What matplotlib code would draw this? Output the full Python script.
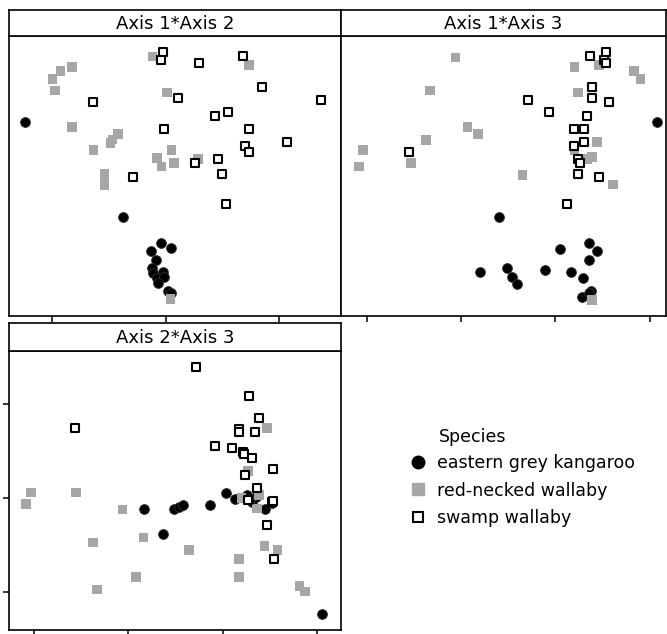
import matplotlib
matplotlib.use("Agg")
import matplotlib.pyplot as plt
from matplotlib.lines import Line2D

# ordination scores (one set per panel)
species = ["eastern grey kangaroo", "red-necked wallaby", "swamp wallaby"]

# Axis 1*Axis 2
egk_12_x = [-1.24, -0.38, -0.04, -0.13, 0.04, -0.09, -0.12, -0.03, -0.11, -0.08, -0.02, -0.07, 0.02, 0.04]
egk_12_y = [0.57, -0.44, -0.71, -0.80, -0.77, -0.89, -0.98, -1.02, -1.03, -1.09, -1.07, -1.14, -1.22, -1.24]
rnw_12_x = [-0.12, 0.73, -0.83, -0.93, -1.00, -0.98, 0.01, -0.83, -0.42, -0.47, -0.49,
            -0.64, 0.05, -0.08, 0.28, 0.07, -0.04, -0.54, -0.54, -0.54, 0.04]
rnw_12_y = [1.27, 1.18, 1.16, 1.12, 1.03, 0.91, 0.89, 0.52, 0.45, 0.39, 0.35,
            0.28, 0.28, 0.19, 0.18, 0.14, 0.10, 0.02, -0.06, -0.10, -1.31]
sw_12_x = [-0.03, -0.04, 0.68, 0.29, 0.85, 0.11, -0.64, 1.37, 0.55, 0.43,
           -0.02, 0.73, 1.07, 0.70, 0.73, 0.46, 0.26, 0.49, -0.29, 0.53]
sw_12_y = [1.32, 1.23, 1.28, 1.20, 0.95, 0.83, 0.79, 0.81, 0.68, 0.64,
           0.50, 0.50, 0.36, 0.32, 0.26, 0.18, 0.14, 0.02, -0.01, -0.30]

# Axis 1*Axis 3
egk_13_x = [2.08, 0.40, 1.05, 1.36, 1.44, 1.36, 0.20, 0.49, 0.54, 0.59, 0.89, 1.16, 1.29, 1.38, 1.28, 1.35]
egk_13_y = [0.57, -0.44, -0.78, -0.71, -0.80, -0.89, -1.02, -0.98, -1.07, -1.15, -1.00, -1.02, -1.09, -1.22, -1.29, -1.24]
rnw_13_x = [-0.06, 1.20, 1.46, 1.83, 1.90, 1.24, -0.33, 0.07, 0.18, -0.37,
            -1.04, -1.08, -0.53, 1.44, 1.20, 1.39, 1.34, 0.65, 1.61, 1.39]
rnw_13_y = [1.26, 1.16, 1.18, 1.12, 1.03, 0.89, 0.91, 0.52, 0.45, 0.38,
            0.28, 0.10, 0.14, 0.36, 0.27, 0.20, 0.18, 0.01, -0.09, -1.32]
sw_13_x = [1.53, 1.37, 1.51, 1.53, 1.39, 1.39, 1.57, 0.71, 0.93, 1.33,
           1.20, 1.30, 1.30, 1.20, 1.24, 1.26, 1.24, 1.46, -0.55, 1.12]
sw_13_y = [1.32, 1.28, 1.23, 1.20, 0.95, 0.83, 0.79, 0.81, 0.68, 0.64,
           0.50, 0.50, 0.36, 0.32, 0.18, 0.14, 0.02, -0.01, 0.26, -0.30]

# Axis 2*Axis 3
egk_23_x = [0.17, 0.37, 0.48, 0.54, 0.58, 0.86, 1.03, 1.13, 1.26, 1.31, 1.35, 1.45, 1.52, 2.05, 1.29]
egk_23_y = [-0.12, -0.38, -0.12, -0.10, -0.07, -0.07, 0.05, -0.01, 0.03, -0.04, 0.01, -0.12, -0.05, -1.23, -0.02]
rnw_23_x = [-1.03, -1.08, -0.55, -0.06, -0.37, 0.16, 0.64, 0.08, -0.33, 1.17,
            1.17, 1.44, 1.58, 1.81, 1.87, 1.47, 1.27, 1.20, 1.38, 1.36]
rnw_23_y = [0.06, -0.06, 0.06, -0.12, -0.47, -0.42, -0.55, -0.84, -0.97, -0.65,
            -0.84, -0.51, -0.55, -0.93, -0.99, 0.74, 0.29, 0.00, 0.03, -0.11]
sw_23_x = [0.72, 1.28, 1.38, 1.17, 1.17, 1.34, -0.56, 0.92, 1.10, 1.21,
           1.22, 1.31, 1.53, 1.24, 1.36, 1.27, 1.52, 1.53, 1.47, 1.54]
sw_23_y = [1.39, 1.08, 0.85, 0.73, 0.70, 0.70, 0.74, 0.55, 0.53, 0.49,
           0.47, 0.43, 0.31, 0.24, 0.11, -0.02, -0.04, -0.03, -0.29, -0.65]

GREY = "#a6a6a6"
styles = [
    dict(marker="o", s=50, c="black", edgecolors="#333333", linewidths=0.6),
    dict(marker="s", s=48, c=GREY, edgecolors="none"),
    dict(marker="s", s=27, facecolors="white", edgecolors="black", linewidths=1.5),
]


def header(fig, rect, title):
    hax = fig.add_axes(rect)
    hax.set_xticks([])
    hax.set_yticks([])
    for sp in hax.spines.values():
        sp.set_linewidth(1.2)
    hax.text(0.5, 0.47, title, ha="center", va="center", fontsize=13)
    return hax


def panel(fig, rect, head_rect, title, groups, xlim, ylim, xticks, yticks):
    ax = fig.add_axes(rect)
    for (x, y), st in zip(groups, styles):
        ax.scatter(x, y, clip_on=False, zorder=3, **st)
    ax.set_xlim(xlim)
    ax.set_ylim(ylim)
    ax.set_xticks(xticks)
    ax.set_yticks(yticks)
    ax.tick_params(direction="out", length=4, width=1.1, labelbottom=False, labelleft=False)
    for sp in ax.spines.values():
        sp.set_linewidth(1.2)
    header(fig, head_rect, title)
    return ax


W, H = 667, 634
fig = plt.figure(figsize=(W / 100, H / 100), dpi=100)


def box(x0, y0, x1, y1):
    # pixel box (top-left origin) to figure fraction rect
    return [x0 / W, 1 - y1 / H, (x1 - x0) / W, (y1 - y0) / H]


panel(fig, box(9, 36, 341, 316), box(9, 10, 341, 36), "Axis 1*Axis 2",
      [(egk_12_x, egk_12_y), (rnw_12_x, rnw_12_y), (sw_12_x, sw_12_y)],
      (-1.383, 1.542), (-1.49, 1.49), [-1, 0, 1], [])

panel(fig, box(341, 36, 666, 316), box(341, 10, 666, 36), "Axis 1*Axis 3",
      [(egk_13_x, egk_13_y), (rnw_13_x, rnw_13_y), (sw_13_x, sw_13_y)],
      (-1.27, 2.17), (-1.49, 1.49), [-1, 0, 1, 2], [])

panel(fig, box(9, 351, 341, 630), box(9, 323, 341, 351), "Axis 2*Axis 3",
      [(egk_23_x, egk_23_y), (rnw_23_x, rnw_23_y), (sw_23_x, sw_23_y)],
      (-1.26, 2.25), (-1.40, 1.56), [-1, 0, 1, 2], [-1, 0, 1])

handles = [
    Line2D([], [], ls="none", marker="o", ms=9, mfc="black", mec="black"),
    Line2D([], [], ls="none", marker="s", ms=8.5, mfc=GREY, mec=GREY),
    Line2D([], [], ls="none", marker="s", ms=7, mfc="white", mec="black", mew=1.5),
]
fig.text(439 / W, 1 - 437 / H, "Species", fontsize=12.5, va="center", ha="left")
fig.legend(handles, species, loc="upper left", bbox_to_anchor=(409 / W, 1 - 454 / H),
           frameon=False, fontsize=12.5, handlelength=1.0, handletextpad=0.6,
           labelspacing=0.55, borderpad=0, borderaxespad=0)

fig.savefig("out.png", dpi=100)
